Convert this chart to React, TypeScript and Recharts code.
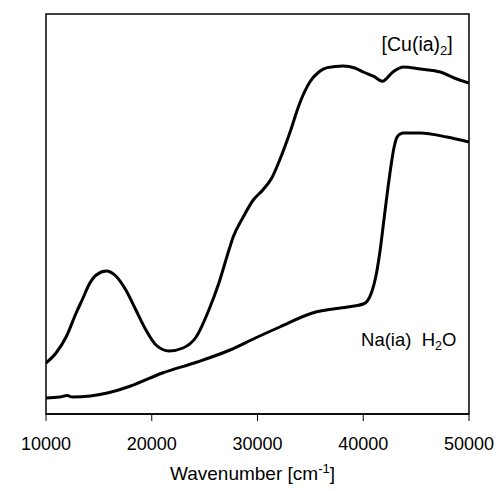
import { LineChart, Line, XAxis, YAxis, ReferenceArea, ReferenceDot, Label } from 'recharts'

const cuWavenumber = [10000, 10950, 11900, 12850, 13500, 14050, 14750, 15700, 16600, 17550, 18500, 19450, 20400, 21650, 22950, 24200, 25400, 26350, 27300, 27700, 28650, 29600, 30500, 31350, 32100, 33050, 34000, 34950, 35800, 36600, 38100, 39200, 40000, 41000, 41800, 42800, 43800, 45400, 47300, 48600, 50000]
const cuAbsorbance = [12.75, 15.25, 19.25, 25.25, 29, 32.25, 34.75, 35.75, 34.5, 31, 26, 21, 17.25, 15.75, 16.5, 19.25, 26, 32.75, 41, 44.25, 49.25, 53.5, 56, 59, 63.5, 70.25, 77.75, 83, 85.5, 86.6, 87, 86.5, 85.5, 84.4, 83.2, 85.5, 86.75, 86.25, 85.5, 84, 82.75]

const naWavenumber = [10000, 11300, 12000, 12500, 14200, 15800, 18000, 21000, 24300, 27400, 29800, 32100, 35200, 38500, 40000, 40400, 40800, 41200, 41600, 42000, 42500, 42900, 43200, 43500, 43800, 45400, 47900, 50000]
const naAbsorbance = [4, 4.25, 4.6, 4.25, 4.5, 5.25, 7, 10.25, 13, 16, 19, 21.75, 25.25, 26.75, 27.5, 28.3, 30.5, 34.5, 41, 49.5, 59.75, 66.5, 69.25, 70, 70.25, 70.25, 69.25, 68]

const xTicks = [10000, 20000, 30000, 40000, 50000]

const cuData = cuWavenumber.map((w, i) => ({ w, a: cuAbsorbance[i] }))
const naData = naWavenumber.map((w, i) => ({ w, a: naAbsorbance[i] }))

const font = '"Liberation Sans", Arial, sans-serif'

function XTitle({ viewBox }: any) {
  const cx = viewBox.x + viewBox.width / 2 - 5
  return (
    <text x={cx} y={480} textAnchor="middle" fontFamily={font} fontSize={19} fill="#000">
      Wavenumber [cm<tspan dy={-7} fontSize={13}>-1</tspan><tspan dy={7}>]</tspan>
    </text>
  )
}

function YTitle({ viewBox }: any) {
  const x = 24
  const y = viewBox.y + viewBox.height / 2
  return (
    <text x={x} y={y} transform={`rotate(-90 ${x} ${y})`} textAnchor="middle" fontFamily={font} fontSize={19} fill="#000">
      Absorbance
    </text>
  )
}

function CuLabel({ viewBox }: any) {
  return (
    <text x={viewBox.x} y={viewBox.y + 6} textAnchor="middle" fontFamily={font} fontSize={19.5} fill="#000">
      [Cu(ia)<tspan dy={4} fontSize={13}>2</tspan><tspan dy={-4}>]</tspan>
    </text>
  )
}

function NaLabel({ viewBox }: any) {
  return (
    <text x={viewBox.x} y={viewBox.y + 6} textAnchor="middle" fontFamily={font} fontSize={18.5} fill="#000">
      {'Na(ia)\u00A0\u00A0H'}<tspan dy={4} fontSize={12.5}>2</tspan><tspan dy={-4}>O</tspan>
    </text>
  )
}

export default function App() {
  return (
    <div style={{ position: 'absolute', left: 0, top: 0, background: '#fff' }}>
      <LineChart width={496} height={491} margin={{ top: 14, right: 27, left: 46, bottom: 0 }}>
        <XAxis
          dataKey="w"
          type="number"
          domain={[10000, 50000]}
          ticks={xTicks}
          allowDataOverflow
          height={77}
          axisLine={{ stroke: '#000', strokeWidth: 1.5 }}
          tickLine={{ stroke: '#000' }}
          tickSize={7}
          tickMargin={16}
          tick={{ fill: '#000', fontSize: 18, fontFamily: font }}
        >
          <Label content={<XTitle />} />
        </XAxis>
        <YAxis type="number" domain={[0, 100]} width={0} tick={false} axisLine={false} tickLine={false}>
          <Label content={<YTitle />} />
        </YAxis>
        <ReferenceArea x1={10000} x2={50000} y1={0} y2={100} fill="none" stroke="#000" strokeWidth={1.5} />
        <Line data={cuData} dataKey="a" type="monotone" stroke="#000" strokeWidth={3} dot={false} isAnimationActive={false} />
        <Line data={naData} dataKey="a" type="monotone" stroke="#000" strokeWidth={3} dot={false} isAnimationActive={false} />
        <ReferenceDot x={45100} y={92.25} r={0} stroke="none" label={<CuLabel />} />
        <ReferenceDot x={44300} y={18.5} r={0} stroke="none" label={<NaLabel />} />
      </LineChart>
    </div>
  )
}
